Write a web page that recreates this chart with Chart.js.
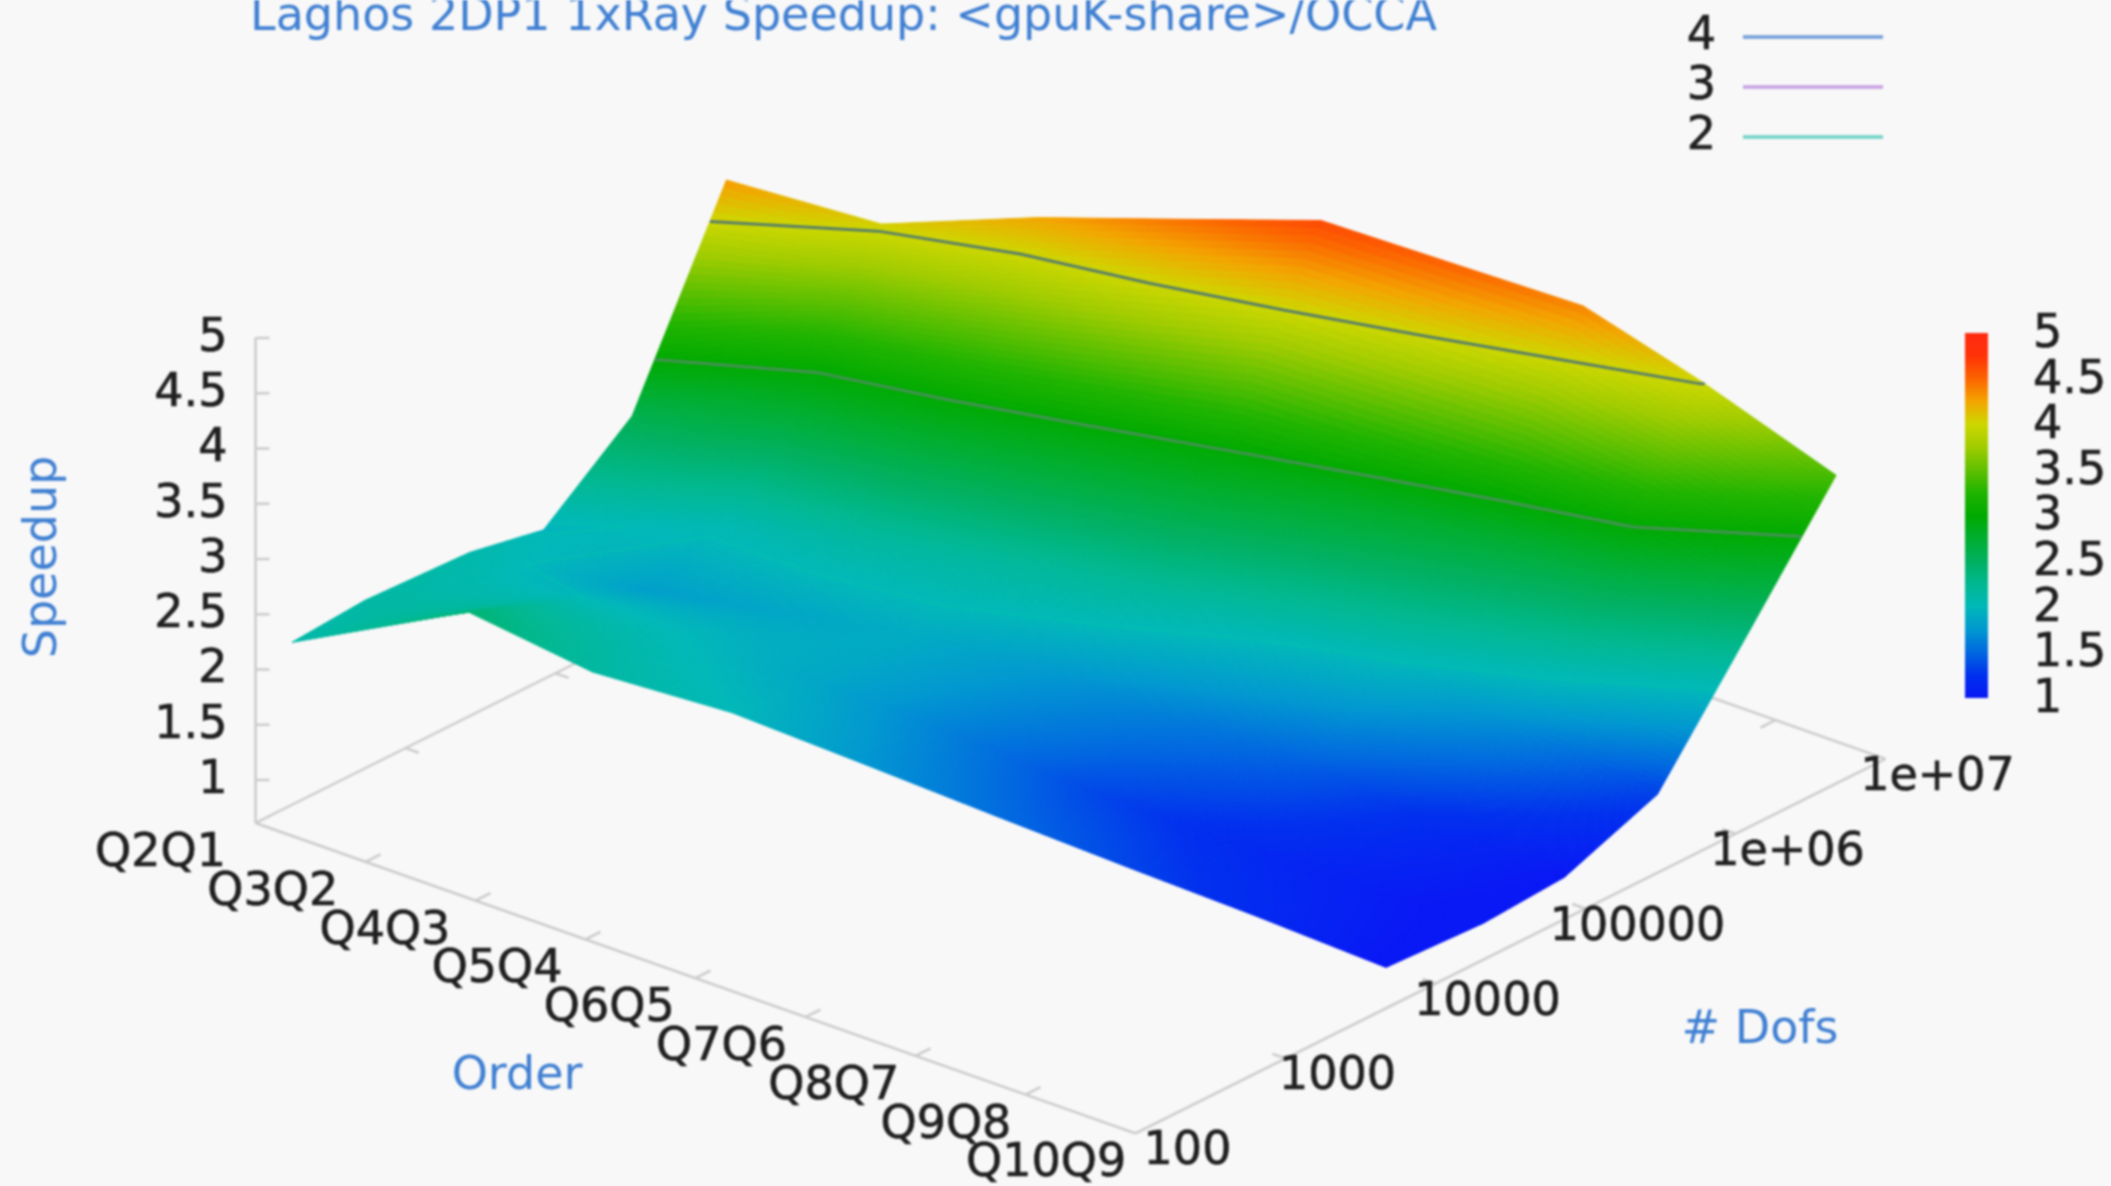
<!DOCTYPE html>
<html>
<head>
<meta charset="utf-8">
<title>Laghos speedup</title>
<script src="https://cdn.jsdelivr.net/npm/chart.js@4"></script>
<style>
    html, body { margin: 0; padding: 0; background: #f8f8f8; overflow: hidden; }
    canvas { display: block; filter: blur(0.8px); }
</style>
</head>
<body>
<canvas id="grafico" width="2111" height="1186"></canvas>
<script>
const titulo = 'Laghos 2DP1 1xRay Speedup: <gpuK-share>/OCCA';
const orders = ['Q2Q1', 'Q3Q2', 'Q4Q3', 'Q5Q4', 'Q6Q5', 'Q7Q6', 'Q8Q7', 'Q9Q8', 'Q10Q9'];
const dofTicks = [100, 1000, 10000, 100000, 1000000, 10000000];
const dofTickLabels = ['100', '1000', '10000', '100000', '1e+06', '1e+07'];
const speedupTicks = [1, 1.5, 2, 2.5, 3, 3.5, 4, 4.5, 5];
const contourLevels = [4, 3, 2];

// one list per order, one value per mesh refinement
const dofsQ2Q1 = [175, 537, 2690, 8320, 32400, 138000];
const dofsQ3Q2 = [482, 1860, 7240, 25100, 100000, 275000];
const dofsQ4Q3 = [603, 2630, 10500, 37200, 141000, 562000];
const dofsQ5Q4 = [948, 3800, 15100, 53700, 214000, 891000];
const dofsQ6Q5 = [1480, 5890, 23400, 83200, 331000, 1480000];
const dofsQ7Q6 = [2040, 8130, 31600, 112000, 457000, 2000000];
const dofsQ8Q7 = [2690, 10700, 41700, 151000, 617000, 2820000];
const dofsQ9Q8 = [3470, 14100, 55000, 195000, 794000, 3160000];
const dofsQ10Q9 = [4680, 20900, 72400, 302000, 1200000, 4680000];

const speedupQ2Q1 = [2.08, 2.13, 2.09, 1.96, 2.59, 4.30];
const speedupQ3Q2 = [2.41, 2.10, 1.80, 2.05, 2.98, 4.05];
const speedupQ4Q3 = [2.15, 2.00, 1.85, 2.15, 2.98, 4.25];
const speedupQ5Q4 = [2.00, 1.85, 1.90, 2.15, 2.98, 4.45];
const speedupQ6Q5 = [1.73, 1.60, 1.75, 2.20, 2.98, 4.64];
const speedupQ7Q6 = [1.52, 1.35, 1.60, 2.05, 2.86, 4.52];
const speedupQ8Q7 = [1.34, 1.20, 1.45, 1.95, 2.75, 4.38];
const speedupQ9Q8 = [1.18, 1.08, 1.20, 1.65, 2.65, 4.02];
const speedupQ10Q9 = [0.98, 0.94, 0.99, 1.32, 2.36, 3.40];

const dofs = [dofsQ2Q1, dofsQ3Q2, dofsQ4Q3, dofsQ5Q4, dofsQ6Q5, dofsQ7Q6, dofsQ8Q7, dofsQ9Q8, dofsQ10Q9];
const speedups = [speedupQ2Q1, speedupQ3Q2, speedupQ4Q3, speedupQ5Q4, speedupQ6Q5, speedupQ7Q6, speedupQ8Q7, speedupQ9Q8, speedupQ10Q9];

// palette
const paletteLevels = [1, 1.25, 1.5, 1.75, 2, 2.25, 2.5, 2.75, 3, 3.25, 3.5, 3.75, 4, 4.25, 4.5, 4.75, 5];
const paletteColors = [
    [8, 24, 245], [0, 48, 238], [0, 104, 224], [0, 152, 208], [0, 184, 184], [0, 184, 144],
    [0, 176, 96], [0, 174, 48], [0, 170, 0], [32, 180, 0], [96, 192, 0], [160, 204, 0],
    [205, 215, 0], [243, 165, 0], [252, 100, 0], [255, 50, 8], [255, 42, 16]
];

const contourColors = ['rgba(40, 90, 150, 0.7)', 'rgba(170, 110, 210, 0.4)', 'rgba(0, 200, 170, 0.3)'];
const legendColors = ['#6f9dd8', '#c79fe2', '#6ed2c4'];

const corTexto = '#1f1f1f';
const corAzul = '#3f7fd2';
const fonte = '46px "DejaVu Sans"';

function corDoValor(z) {
    if (z <= paletteLevels[0]) return `rgb(${paletteColors[0].join(',')})`;
    for (let n = 1; n < paletteLevels.length; n++) {
        if (z <= paletteLevels[n]) {
            const t = (z - paletteLevels[n - 1]) / (paletteLevels[n] - paletteLevels[n - 1]);
            const a = paletteColors[n - 1], b = paletteColors[n];
            return `rgb(${a.map((c, m) => Math.round(c + (b[m] - c) * t)).join(',')})`;
        }
    }
    return `rgb(${paletteColors[paletteColors.length - 1].join(',')})`;
}

// gnuplot style view: order index, log10(dofs) and speedup to plot units
function projetar(ordem, logDof, z) {
    const j = logDof - 2;
    return {
        x: 255.5 + 110 * ordem + 150 * j,
        y: 823 + 38.8 * ordem - 74.9 * j - (z - 0.61) * 110.5
    };
}

const zBase = 0.61;
const lastOrder = orders.length - 1;
const lastLog = Math.log10(dofTicks[dofTicks.length - 1]);
const firstLog = Math.log10(dofTicks[0]);
const gap = { x: NaN, y: NaN };

// axes, as line segments split by gaps
function linhasDosEixos() {
    const seg = [];
    function add(a, b) { seg.push(a, b, gap); }
    add(projetar(0, firstLog, zBase), projetar(0, firstLog, 5));
    add(projetar(0, firstLog, zBase), projetar(lastOrder, firstLog, zBase));
    add(projetar(lastOrder, firstLog, zBase), projetar(lastOrder, lastLog, zBase));
    add(projetar(0, firstLog, zBase), projetar(0, lastLog, zBase));
    add(projetar(0, lastLog, zBase), projetar(lastOrder, lastLog, zBase));
    speedupTicks.forEach(z => {
        const p = projetar(0, firstLog, z);
        seg.push(p, { x: p.x + 14, y: p.y }, gap);
    });
    orders.forEach((o, i) => {
        add(projetar(i, firstLog, zBase), projetar(i, firstLog + 0.1, zBase));
        add(projetar(i, lastLog, zBase), projetar(i, lastLog - 0.1, zBase));
    });
    dofTicks.forEach(d => {
        const l = Math.log10(d);
        add(projetar(lastOrder, l, zBase), projetar(lastOrder - 0.12, l, zBase));
        add(projetar(0, l, zBase), projetar(0.12, l, zBase));
    });
    return seg;
}

// contour lines, linear along the edges of each mesh cell
function linhasDeContorno(nivel) {
    const seg = [];
    for (let i = 0; i < lastOrder; i++) {
        for (let k = 0; k < dofs[i].length - 1; k++) {
            const cantos = [[i, k], [i + 1, k], [i + 1, k + 1], [i, k + 1]];
            const cortes = [];
            for (let n = 0; n < 4; n++) {
                const a = cantos[n], b = cantos[(n + 1) % 4];
                const za = speedups[a[0]][a[1]], zb = speedups[b[0]][b[1]];
                if ((za - nivel) * (zb - nivel) < 0) {
                    const t = (nivel - za) / (zb - za);
                    const la = Math.log10(dofs[a[0]][a[1]]), lb = Math.log10(dofs[b[0]][b[1]]);
                    cortes.push(projetar(a[0] + (b[0] - a[0]) * t, la + (lb - la) * t, nivel));
                }
            }
            for (let n = 0; n + 1 < cortes.length; n += 2) {
                seg.push(cortes[n], cortes[n + 1], gap);
            }
        }
    }
    return seg;
}

function pontosDaMalha() {
    const pts = [];
    dofs.forEach((linha, i) => linha.forEach((d, k) => pts.push(projetar(i, Math.log10(d), speedups[i][k]))));
    return pts;
}

// pm3d like surface, painted back to front when its dataset comes up
const superficie = {
    id: 'superficie',
    beforeDatasetDraw(chart, args) {
        if (chart.data.datasets[args.index].label !== 'surface') return;
        const ctx = chart.ctx;
        const sx = chart.scales.x, sy = chart.scales.y;
        const passos = 30;

        function vertice(i, k, u, v) {
            const l00 = Math.log10(dofs[i][k]), l01 = Math.log10(dofs[i][k + 1]);
            const l10 = Math.log10(dofs[i + 1][k]), l11 = Math.log10(dofs[i + 1][k + 1]);
            const l = (1 - u) * ((1 - v) * l00 + v * l01) + u * ((1 - v) * l10 + v * l11);
            const z = (1 - u) * ((1 - v) * speedups[i][k] + v * speedups[i][k + 1]) +
                u * ((1 - v) * speedups[i + 1][k] + v * speedups[i + 1][k + 1]);
            const p = projetar(i + u, l, z);
            return { x: sx.getPixelForValue(p.x), y: sy.getPixelForValue(p.y), z: z };
        }

        ctx.save();
        ctx.lineWidth = 1;
        ctx.lineJoin = 'round';
        for (let i = 0; i < lastOrder; i++) {
            for (let k = dofs[i].length - 2; k >= 0; k--) {
                for (let a = 0; a < passos; a++) {
                    for (let b = passos - 1; b >= 0; b--) {
                        const p1 = vertice(i, k, a / passos, b / passos);
                        const p2 = vertice(i, k, (a + 1) / passos, b / passos);
                        const p3 = vertice(i, k, (a + 1) / passos, (b + 1) / passos);
                        const p4 = vertice(i, k, a / passos, (b + 1) / passos);
                        const cor = corDoValor((p1.z + p2.z + p3.z + p4.z) / 4);
                        ctx.fillStyle = cor;
                        ctx.strokeStyle = cor;
                        ctx.beginPath();
                        ctx.moveTo(p1.x, p1.y);
                        ctx.lineTo(p2.x, p2.y);
                        ctx.lineTo(p3.x, p3.y);
                        ctx.lineTo(p4.x, p4.y);
                        ctx.closePath();
                        ctx.fill();
                        ctx.stroke();
                    }
                }
            }
        }
        ctx.restore();
    }
};

// labels, key and colour bar
const textos = {
    id: 'textos',
    afterDatasetsDraw(chart) {
        const ctx = chart.ctx;
        const sx = chart.scales.x, sy = chart.scales.y;
        const px = p => ({ x: sx.getPixelForValue(p.x), y: sy.getPixelForValue(p.y) });

        function escrever(texto, x, y, alinhar, cor) {
            ctx.textAlign = alinhar;
            ctx.fillStyle = cor;
            ctx.fillText(texto, x, y);
            // the numbers look heavier in the reference
            if (cor === corTexto) {
                ctx.strokeStyle = cor;
                ctx.lineWidth = 0.7;
                ctx.strokeText(texto, x, y);
            }
        }

        ctx.save();
        ctx.font = fonte;
        ctx.textBaseline = 'alphabetic';
        escrever(titulo, 250, 30, 'left', corAzul);

        ctx.textBaseline = 'middle';
        speedupTicks.forEach(z => {
            const p = px(projetar(0, firstLog, z));
            escrever(String(z), p.x - 28, p.y + 1, 'right', corTexto);
        });
        orders.forEach((o, i) => {
            const p = px(projetar(i, firstLog, zBase));
            // the last label is wider and sits closer to the one before
            const ajuste = o === 'Q10Q9' ? -12 : 0;
            escrever(o, p.x - 95 + i * 2.2 + ajuste, p.y + 31, 'center', corTexto);
        });
        dofTicks.forEach((d, n) => {
            const p = px(projetar(lastOrder, Math.log10(d), zBase));
            escrever(dofTickLabels[n], p.x + 52, p.y + 19, 'center', corTexto);
        });

        escrever('Order', 517, 1077, 'center', corAzul);
        escrever('# Dofs', 1760, 1031, 'center', corAzul);
        ctx.save();
        ctx.translate(44, 557);
        ctx.rotate(-Math.PI / 2);
        escrever('Speedup', 0, 0, 'center', corAzul);
        ctx.restore();

        // key
        contourLevels.forEach((nivel, n) => {
            const y = 37 + n * 50;
            escrever(String(nivel), 1716, y, 'right', corTexto);
            ctx.strokeStyle = legendColors[n];
            ctx.lineWidth = 3.5;
            ctx.beginPath();
            ctx.moveTo(1743, y);
            ctx.lineTo(1883, y);
            ctx.stroke();
        });

        // colour bar, same 1..5 range as the speedup axis
        const topo = 333, base = 698, esq = 1965, larg = 23;
        const grad = ctx.createLinearGradient(0, base, 0, topo);
        paletteLevels.forEach(z => grad.addColorStop((z - 1) / 4, corDoValor(z)));
        ctx.fillStyle = grad;
        ctx.fillRect(esq, topo, larg, base - topo);
        speedupTicks.forEach(z => {
            const y = base - (z - 1) / 4 * (base - topo);
            escrever(String(z), 2033, y + 2, 'left', corTexto);
        });
        ctx.restore();
    }
};

const datasets = contourLevels.map((nivel, n) => ({
    label: 'contour ' + nivel,
    data: linhasDeContorno(nivel),
    showLine: true,
    spanGaps: false,
    pointRadius: 0,
    borderWidth: 3,
    borderColor: contourColors[n]
}));
datasets.push({ label: 'surface', data: pontosDaMalha(), showLine: false, pointRadius: 0 });
datasets.push({
    label: 'axes',
    data: linhasDosEixos(),
    showLine: true,
    spanGaps: false,
    pointRadius: 0,
    borderWidth: 2.5,
    borderColor: '#cbcbcb'
});

new Chart(document.getElementById('grafico'), {
    type: 'scatter',
    data: { datasets: datasets },
    options: {
        responsive: false,
        animation: false,
        layout: { padding: 0 },
        plugins: { legend: { display: false }, title: { display: false }, tooltip: { enabled: false } },
        scales: {
            x: { type: 'linear', display: false, min: 0, max: 2111 },
            y: { type: 'linear', display: false, min: 0, max: 1186, reverse: true }
        }
    },
    plugins: [superficie, textos]
});
</script>
</body>
</html>
